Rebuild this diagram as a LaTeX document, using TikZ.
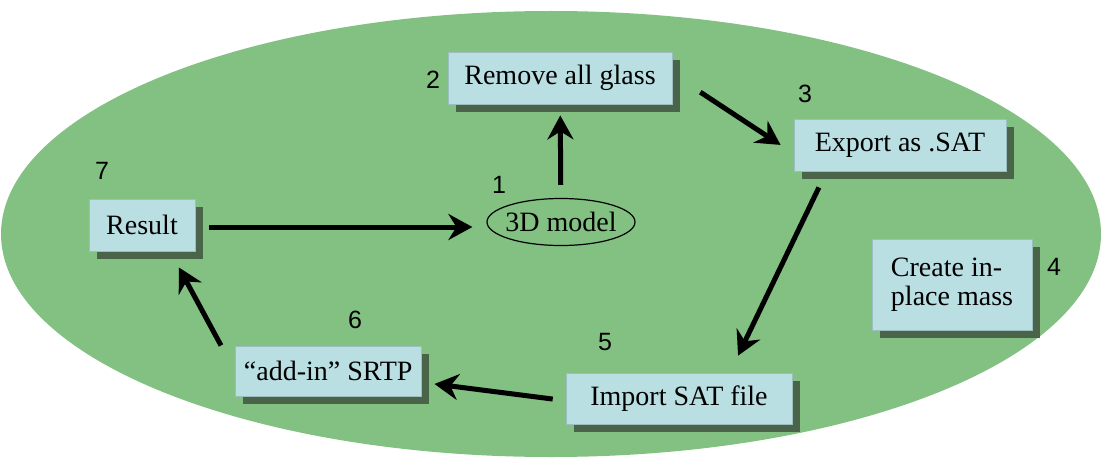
\documentclass[tikz,border=0pt]{standalone}
\usepackage{fontspec}
\setmainfont{Liberation Serif}
\newfontfamily\numfont{Liberation Sans}
\usetikzlibrary{positioning,shadows,shapes.geometric,arrows.meta}
\definecolor{ovalgreen}{HTML}{82C182}
\definecolor{boxblue}{HTML}{B9DFE3}
\definecolor{shadowgreen}{HTML}{4A6449}

\begin{document}
\begin{tikzpicture}[
	task/.style={rectangle, fill=boxblue, draw=boxblue!85!black, line width=0.4pt,
		inner sep=0pt, font=\fontsize{14}{14.5}\selectfont,
		drop shadow={shadow xshift=4pt, shadow yshift=-4pt, fill=shadowgreen, opacity=1}},
	num/.style={font=\numfont\fontsize{12.5}{13}\selectfont, inner sep=0pt},
	flow/.style={line width=2.5pt, -{Stealth[length=12pt, width=13pt, inset=4pt]}},
]
	\useasboundingbox (0,0) rectangle (551pt,-230pt);
	% Background oval
	\fill[ovalgreen] (275.5pt,-117pt) ellipse [x radius=275pt, y radius=111.5pt];

	% Define nodes
	\node[ellipse, draw=black, line width=0.6pt, inner ysep=0pt, inner xsep=-3pt, minimum width=74pt,
		minimum height=23.5pt, font=\fontsize{14}{14.5}\selectfont] (model) at (280.5pt,-111pt) {3D model};
	\node[task, minimum width=112pt, minimum height=26pt, above=46.75pt of model, xshift=-0.5pt] (remove) {Remove all glass};
	\node[task, minimum width=106pt, minimum height=26pt, right=79pt of model, yshift=38.5pt] (export) {Export as .SAT};
	\node[task, minimum width=80pt, minimum height=45.5pt, align=left, right=118pt of model, yshift=-31.25pt] (create) {Create in-\\place mass};
	\node[task, minimum width=113pt, minimum height=25.5pt, below=63.25pt of model, xshift=59pt] (import) {Import SAT file};
	\node[task, minimum width=93pt, minimum height=25pt, left=72pt of import, yshift=13.75pt] (srtp) {“add-in” SRTP};
	\node[task, minimum width=53pt, minimum height=26pt, left=145.5pt of model, yshift=-1.5pt] (result) {Result};

	% Step numbers
	\node[num] (n1) at (249.5pt,-92.5pt) {1};
	\node[num] (n2) at (216.5pt,-40pt) {2};
	\node[num] (n3) at (402.5pt,-47pt) {3};
	\node[num] (n4) at (527pt,-133.5pt) {4};
	\node[num] (n5) at (302.5pt,-171pt) {5};
	\node[num] (n6) at (177.5pt,-160pt) {6};
	\node[num] (n7) at (51pt,-85.5pt) {7};

	% Edges
	\draw[flow, shorten <=6.5pt, shorten >=5.5pt] (model) -- (remove);
	\draw[flow, shorten <=16.7pt, shorten >=7.8pt] ([yshift=2.1pt]remove.east) -- ([yshift=-4.25pt]export.west);
	\draw[flow, shorten <=8.9pt, shorten >=9.4pt] ([xshift=-36.7pt]export.south) -- ([xshift=25.45pt]import.north);
	\draw[flow, shorten <=6.5pt, shorten >=6.5pt] ([yshift=-1.1pt]import.west) -- ([yshift=-5.65pt]srtp.east);
	\draw[flow, shorten <=14.5pt, shorten >=9.1pt] (srtp.west) -- ([xshift=14.1pt]result.south);
	\draw[flow, shorten <=7pt, shorten >=7pt] ([yshift=-1pt]result.east) -- ([yshift=-1pt]result.east -| model.west);
\end{tikzpicture}
\end{document}
